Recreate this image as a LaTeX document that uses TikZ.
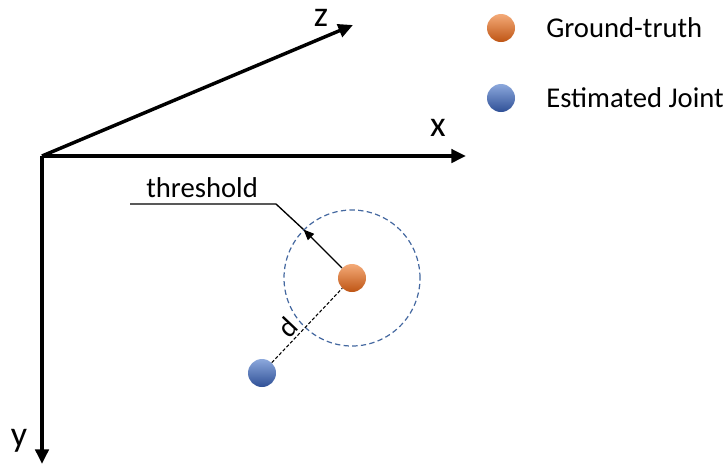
\documentclass[tikz,border=0pt]{standalone}
\usepackage{fontspec}
\setmainfont{Carlito}
\usetikzlibrary{arrows.meta}
\definecolor{orangetop}{RGB}{244,170,120}
\definecolor{orangebot}{RGB}{190,85,20}
\definecolor{bluetop}{RGB}{140,168,220}
\definecolor{bluebot}{RGB}{47,80,150}
\definecolor{ringblue}{RGB}{68,104,160}
\begin{document}
\begin{tikzpicture}[x=0.75pt,y=-0.75pt,
  axis/.style={line width=2.6pt,-{Triangle[length=11pt,width=10pt]}},
  lbl/.style={font=\fontsize{21.5}{24}\selectfont,inner sep=0pt},
  axlbl/.style={font=\fontsize{27}{30}\selectfont,inner sep=0pt},
  gt/.style={circle,minimum size=21pt,inner sep=0pt,top color=orangetop,bottom color=orangebot},
  est/.style={circle,minimum size=21pt,inner sep=0pt,top color=bluetop,bottom color=bluebot},
  ring/.style={circle,draw=ringblue,dashed,line width=0.9pt,dash pattern=on 4pt off 2.5pt,minimum size=102pt,inner sep=0pt}]
\useasboundingbox (0,0) rectangle (728,465);
% axes
\coordinate (O) at (42,156);
\coordinate (xend) at (466,156);
\coordinate (zend) at (353,25);
\coordinate (yend) at (42,464);
\draw[axis] (O) -- (zend);
\draw[axis] (O) -- (xend);
\draw[axis] (O) -- (yend);
\node[axlbl] (zl) at (321,18) {z};
\node[axlbl] (xl) at (438,128) {x};
\node[axlbl] (yl) at (19,441) {y};
% threshold circle and joints
\node[ring] (ring) at (352,278) {};
\node[gt] (g) at (352,278) {};
\node[est] (e) at (262,373) {};
\draw[dashed,line width=0.8pt,dash pattern=on 2.5pt off 1.5pt] (e) -- (g)
  node[pos=0.36,sloped,above,lbl,inner sep=2pt] (dl) {d};
% threshold leader
\coordinate (tip) at (ring.135);
\coordinate (bend) at (276,204);
\coordinate (lend) at (130,204);
\draw[line width=1pt,-{Triangle[length=8pt,width=6.5pt]}] (g) -- (tip);
\draw[line width=1pt] (tip) -- (bend) -- (lend);
\node[lbl,anchor=south west] (th) at (146,198) {threshold};
% legend
\node[gt] (lg) at (501,28) {};
\node[est] (le) at (501,98) {};
\node[lbl,anchor=west] (lgt) at (546,28) {Ground-truth};
\node[lbl,anchor=west] (let) at (546,98) {Estimated Joint};
\end{tikzpicture}
\end{document}
